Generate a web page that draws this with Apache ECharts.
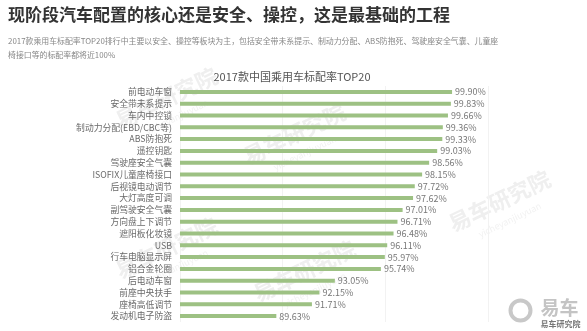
<!DOCTYPE html>
<html>
<head>
<meta charset="utf-8">
<script src="https://cdn.jsdelivr.net/npm/echarts@6/dist/echarts.min.js"></script>
<style>
html,body{margin:0;padding:0;background:#fff;}
#chart{width:587px;height:331px;}
</style>
</head>
<body>
<div id="chart"></div>
<script>
// 2017款中国乘用车标配率 TOP20
const categories = [
  '前电动车窗','安全带未系提示','车内中控锁','制动力分配(EBD/CBC等)','ABS防抱死',
  '遥控钥匙','驾驶座安全气囊','ISOFIX儿童座椅接口','后视镜电动调节','大灯高度可调',
  '副驾驶安全气囊','方向盘上下调节','遮阳板化妆镜','USB','行车电脑显示屏',
  '铝合金轮圈','后电动车窗','前座中央扶手','座椅高低调节','发动机电子防盗'
];
const rates = [
  99.90, 99.83, 99.66, 99.36, 99.33,
  99.03, 98.56, 98.15, 97.72, 97.62,
  97.01, 96.71, 96.48, 96.11, 95.97,
  95.74, 93.05, 92.15, 91.71, 89.63
];

const headline = '现阶段汽车配置的核心还是安全、操控，这是最基础的工程';
const summaryLines = [
  '2017款乘用车标配率TOP20排行中主要以安全、操控等板块为主，包括安全带未系提示、制动力分配、ABS防抱死、驾驶座安全气囊、儿童座',
  '椅接口等的标配率都将近100%'
];
const chartTitle = '2017款中国乘用车标配率TOP20';

const FONT = '"Noto Sans CJK SC", "Noto Sans", sans-serif';
const chart = echarts.init(document.getElementById('chart'));

// faint diagonal brand marks behind the plot
function watermark(x, y) {
  return {
    type: 'group', x: x, y: y, rotation: Math.PI / 7, silent: true, z: 0,
    children: [
      { type: 'text', style: { text: '易车研究院', x: 0, y: 0, fill: '#efefef',
        font: 'bold 22px ' + FONT } },
      { type: 'text', style: { text: 'yicheyanjiuyuan', x: 22, y: 28, fill: '#f2f2f2',
        font: '9px ' + FONT } }
    ]
  };
}

chart.setOption({
  animation: false,
  backgroundColor: '#fff',
  title: [
    { text: headline, left: 3, top: 1,
      textStyle: { fontFamily: FONT, fontSize: 17, fontWeight: 'bold', color: '#333' } },
    { text: summaryLines.join('\n'), left: 3, top: 29,
      textStyle: { fontFamily: FONT, fontSize: 7.9, fontWeight: 'normal', color: '#888', lineHeight: 14 } },
    { text: chartTitle, left: 287, textAlign: 'center', top: 66,
      textStyle: { fontFamily: FONT, fontSize: 11, fontWeight: 'normal', color: '#555' } }
  ],
  graphic: [
    watermark(112, 112),
    watermark(240, 148),
    watermark(112, 262),
    watermark(250, 285),
    watermark(445, 215),
    {
      type: 'group', left: 508, top: 298, silent: true,
      children: [
        { type: 'circle', shape: { cx: 12, cy: 12, r: 10 }, style: { fill: 'none', stroke: '#c8c8c8', lineWidth: 4 } },
        { type: 'text', style: { text: '易车', x: 32, y: 0, fill: '#c4c4c4', font: 'bold 19px ' + FONT } },
        { type: 'text', style: { text: '易车研究院', x: 32, y: 21, fill: '#777', font: 'bold 8px ' + FONT } }
      ]
    }
  ],
  grid: { left: 180, right: 99, top: 86, bottom: 9, containLabel: false },
  xAxis: {
    type: 'value', min: 84, max: 102, interval: 6,
    axisLabel: { show: false }, axisLine: { show: false }, axisTick: { show: false },
    splitLine: { show: true, lineStyle: { color: '#f2f2f2', width: 1 } }
  },
  yAxis: {
    type: 'category', data: categories, inverse: true,
    axisLine: { show: false }, axisTick: { show: false },
    axisLabel: { fontFamily: FONT, fontSize: 8.8, color: '#6a6a6a', margin: 8 }
  },
  series: [{
    type: 'bar', data: rates, barWidth: 4,
    itemStyle: { color: '#9dc183' },
    label: {
      show: true, position: 'right', distance: 3,
      fontFamily: FONT, fontSize: 9, color: '#777',
      formatter: p => p.value.toFixed(2) + '%'
    },
    z: 3
  }]
});
</script>
</body>
</html>
